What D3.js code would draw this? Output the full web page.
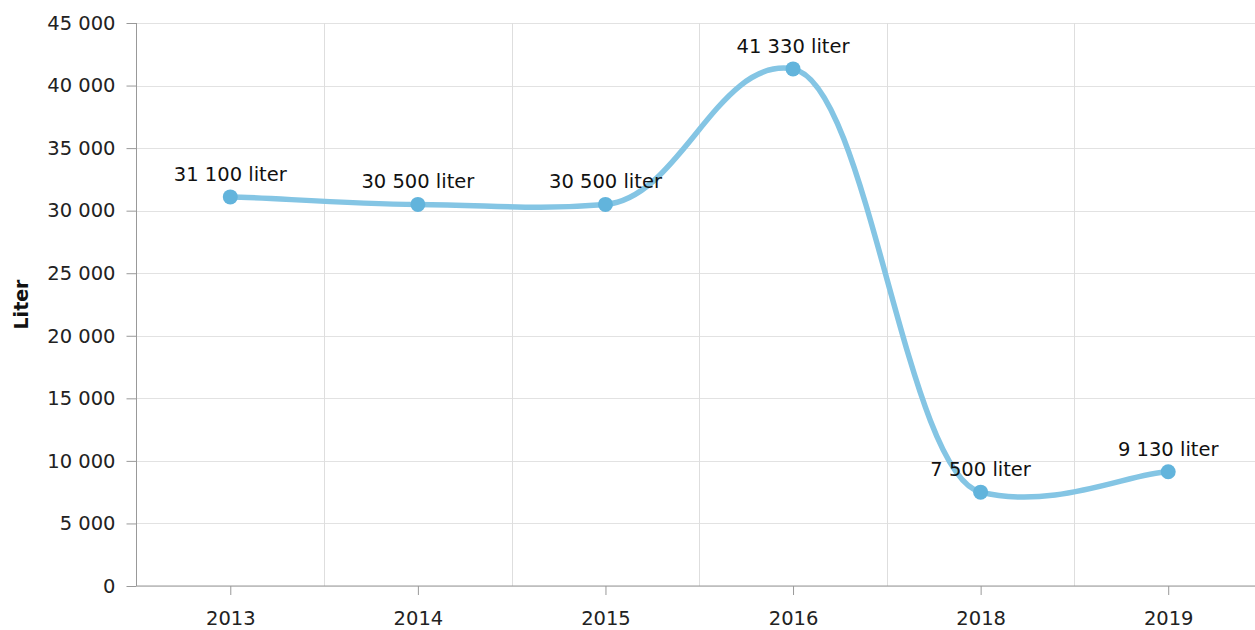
<!DOCTYPE html>
<html>
<head>
<meta charset="utf-8">
<script src="https://cdn.jsdelivr.net/npm/d3@7"></script>
<style>
  html, body { margin: 0; padding: 0; background: #fff; }
  svg { display: block; font-family: "DejaVu Sans", Verdana, sans-serif; }
</style>
</head>
<body>
<svg id="chart" width="1255" height="630"></svg>
<script>
// data
const years = ["2013", "2014", "2015", "2016", "2018", "2019"];
const liters = [31100, 30500, 30500, 41330, 7500, 9130];
const yTicks = [0, 5000, 10000, 15000, 20000, 25000, 30000, 35000, 40000, 45000];
const yTitle = "Liter";
const unit = "liter";

// plot geometry
const plotLeft = 136.5, plotRight = 1262, plotTop = 23, plotBottom = 586;
const fontSize = "19.5px";

const svg = d3.select("#chart");

const fmt = d3.formatLocale({decimal: ",", thousands: "\u00a0", grouping: [3], currency: ["", ""]}).format(",d");

const x = d3.scalePoint().domain(years).range([plotLeft, plotRight]).padding(0.5);
const step = x.step();
const y = d3.scaleLinear().domain([0, 45000]).range([plotBottom, plotTop]);

// smoothed line: control points pulled along neighbours, separate x / y tension
function tensionCurve(sx, sy) {
    return function (context) {
        let pts = [];
        return {
            areaStart() {}, areaEnd() {},
            lineStart() { pts = []; },
            point(px, py) { pts.push([+px, +py]); },
            lineEnd() {
                const n = pts.length;
                if (!n) return;
                context.moveTo(pts[0][0], pts[0][1]);
                for (let i = 0; i < n - 1; i++) {
                    const p0 = pts[Math.max(i - 1, 0)], p1 = pts[i], p2 = pts[i + 1], p3 = pts[Math.min(i + 2, n - 1)];
                    context.bezierCurveTo(
                        p1[0] + sx * (p2[0] - p0[0]), p1[1] + sy * (p2[1] - p0[1]),
                        p2[0] - sx * (p3[0] - p1[0]), p2[1] - sy * (p3[1] - p1[1]),
                        p2[0], p2[1]);
                }
            }
        };
    };
}

// horizontal grid
svg.append("g")
    .selectAll("line")
    .data(yTicks)
    .join("line")
    .attr("x1", plotLeft).attr("x2", 1255)
    .attr("y1", d => Math.round(y(d)) + 0.5).attr("y2", d => Math.round(y(d)) + 0.5)
    .attr("stroke", "#e2e2e2");

// vertical grid between categories
svg.append("g")
    .selectAll("line")
    .data(years.slice(1))
    .join("line")
    .attr("x1", d => Math.round(x(d) - step / 2) + 0.5).attr("x2", d => Math.round(x(d) - step / 2) + 0.5)
    .attr("y1", plotTop).attr("y2", plotBottom)
    .attr("stroke", "#dedede");

// y axis
const yAxis = svg.append("g")
    .attr("transform", `translate(${plotLeft},0)`)
    .call(d3.axisLeft(y).tickValues(yTicks).tickFormat(fmt).tickSize(10).tickPadding(11));
yAxis.select(".domain").attr("stroke", "#999").attr("d", `M0,${plotTop}V${plotBottom}`);
yAxis.selectAll(".tick line").attr("stroke", "#999");
yAxis.selectAll(".tick text")
    .attr("fill", "#222")
    .style("font-size", fontSize)
    .style("font-family", "DejaVu Sans, Verdana, sans-serif");

// x axis
const xAxis = svg.append("g")
    .attr("transform", `translate(0,${plotBottom})`)
    .call(d3.axisBottom(x).tickSize(9).tickPadding(16).tickSizeOuter(0));
xAxis.select(".domain").attr("stroke", "#999").attr("d", `M${plotLeft},0H1255`);
xAxis.selectAll(".tick line").attr("stroke", "#999");
xAxis.selectAll(".tick text")
    .attr("fill", "#222")
    .style("font-size", fontSize)
    .style("font-family", "DejaVu Sans, Verdana, sans-serif");

// axis title
svg.append("text")
    .attr("transform", `translate(28,${(plotTop + plotBottom) / 2}) rotate(-90)`)
    .attr("text-anchor", "middle")
    .style("font-size", "19px")
    .style("font-weight", "bold")
    .attr("fill", "#111")
    .text(yTitle);

const pts = years.map((yr, i) => ({year: yr, value: liters[i]}));

// line
svg.append("path")
    .datum(pts)
    .attr("fill", "none")
    .attr("stroke", "#84c5e4")
    .attr("stroke-width", 5.5)
    .attr("stroke-linecap", "round")
    .attr("d", d3.line()
        .x(d => x(d.year))
        .y(d => y(d.value))
        .curve(tensionCurve(0.2, 0.045)));

// dots
svg.append("g")
    .selectAll("circle")
    .data(pts)
    .join("circle")
    .attr("cx", d => x(d.year))
    .attr("cy", d => y(d.value))
    .attr("r", 7.5)
    .attr("fill", "#62b4dc");

// value labels
svg.append("g")
    .selectAll("text")
    .data(pts)
    .join("text")
    .attr("x", d => x(d.year))
    .attr("y", d => y(d.value) - 16)
    .attr("text-anchor", "middle")
    .attr("fill", "#111")
    .style("font-size", fontSize)
    .text(d => `${fmt(d.value)} ${unit}`);
</script>
</body>
</html>
